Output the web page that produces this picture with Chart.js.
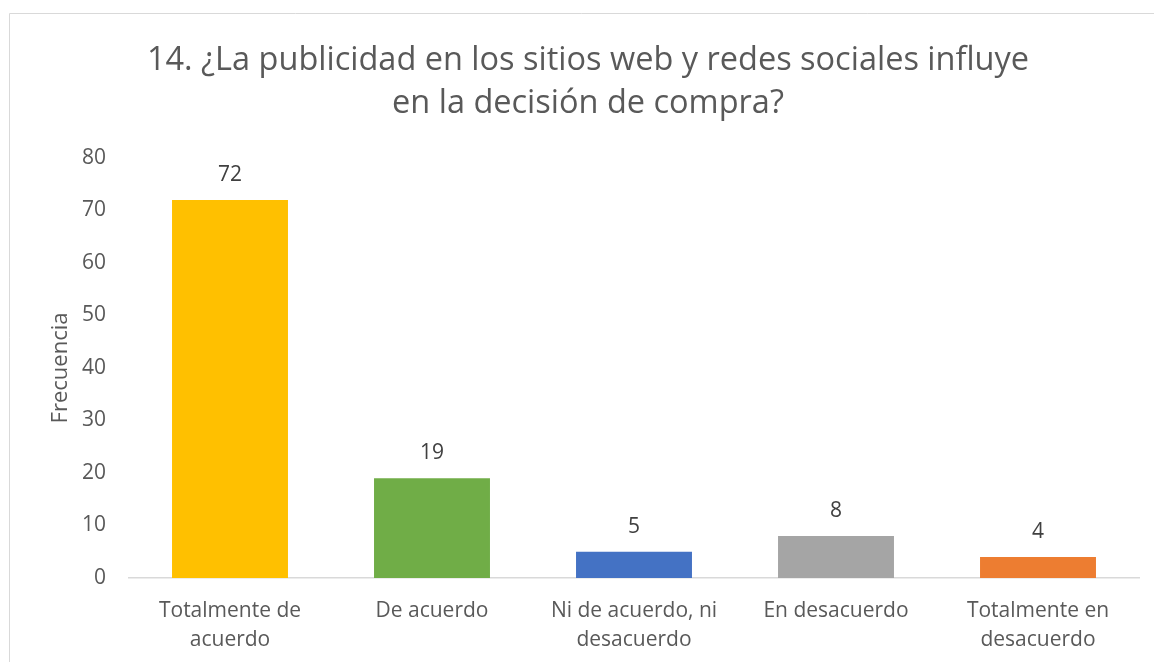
<!DOCTYPE html>
<html>
<head>
<meta charset="utf-8">
<script src="https://cdn.jsdelivr.net/npm/chart.js@4.4.0/dist/chart.umd.min.js"></script>
<style>
  html, body { margin: 0; padding: 0; background: #fff; }
  #wrap { width: 1154px; height: 662px; position: relative; }
</style>
</head>
<body>
<div id="wrap"><canvas id="chart" width="1154" height="662"></canvas></div>
<script>
const categories = [
  ['Totalmente de', 'acuerdo'],
  'De acuerdo',
  ['Ni de acuerdo, ni', 'desacuerdo'],
  'En desacuerdo',
  ['Totalmente en', 'desacuerdo']
];
const frecuencia = [72, 19, 5, 8, 4];
const barColors = ['#FFC000', '#70AD47', '#4472C4', '#A5A5A5', '#ED7D31'];
const titleLines = [
  '14. ¿La publicidad en los sitios web y redes sociales influye',
  'en la decisión de compra?'
];
const yMin = 0, yMax = 80, yStep = 10;

const FONT = '"Open Sans", "Noto Sans", sans-serif';

// outer frame + title, drawn behind everything
const framePlugin = {
  id: 'frame',
  beforeDraw(chart) {
    const ctx = chart.ctx;
    ctx.save();
    ctx.strokeStyle = '#D9D9D9';
    ctx.lineWidth = 1;
    ctx.beginPath();
    ctx.moveTo(9.5, chart.height);
    ctx.lineTo(9.5, 13.5);
    ctx.lineTo(chart.width, 13.5);
    ctx.stroke();

    ctx.fillStyle = '#595959';
    ctx.font = '32.5px ' + FONT;
    ctx.textAlign = 'center';
    ctx.textBaseline = 'alphabetic';
    ctx.fillText(titleLines[0], 588, 70);
    ctx.fillText(titleLines[1], 588, 113);
    ctx.restore();
  }
};

// value labels above each bar
const valueLabels = {
  id: 'valueLabels',
  afterDatasetsDraw(chart) {
    const ctx = chart.ctx;
    const meta = chart.getDatasetMeta(0);
    ctx.save();
    ctx.fillStyle = '#404040';
    ctx.font = '21px ' + FONT;
    ctx.textAlign = 'center';
    ctx.textBaseline = 'middle';
    meta.data.forEach((bar, i) => {
      ctx.fillText(String(frecuencia[i]), bar.x, bar.y - 25);
    });
    ctx.restore();
  }
};

new Chart(document.getElementById('chart'), {
  type: 'bar',
  data: {
    labels: categories,
    datasets: [{
      data: frecuencia,
      backgroundColor: barColors,
      borderWidth: 0,
      categoryPercentage: 1,
      barPercentage: 0.574
    }]
  },
  options: {
    responsive: false,
    animation: false,
    layout: { padding: { top: 158, right: 15, left: 0, bottom: 0 } },
    plugins: {
      legend: { display: false },
      tooltip: { enabled: false },
      title: { display: false }
    },
    scales: {
      x: {
        grid: { display: false, drawTicks: false },
        border: { color: '#D9D9D9', width: 1.5 },
        ticks: {
          color: '#595959',
          padding: 19,
          maxRotation: 0,
          font: { family: FONT, size: 21, lineHeight: '29px' }
        },
        afterFit(scale) { scale.height = 662 - 578; }
      },
      y: {
        min: yMin,
        max: yMax,
        grid: { display: false, drawTicks: false },
        border: { display: false },
        ticks: {
          stepSize: yStep,
          color: '#595959',
          padding: 23,
          font: { family: FONT, size: 21 }
        },
        title: {
          display: true,
          text: 'Frecuencia',
          color: '#595959',
          font: { family: FONT, size: 22 },
          padding: { top: 48, bottom: 0 }
        },
        afterFit(scale) { scale.width = 129; }
      }
    }
  },
  plugins: [framePlugin, valueLabels]
});
</script>
</body>
</html>
